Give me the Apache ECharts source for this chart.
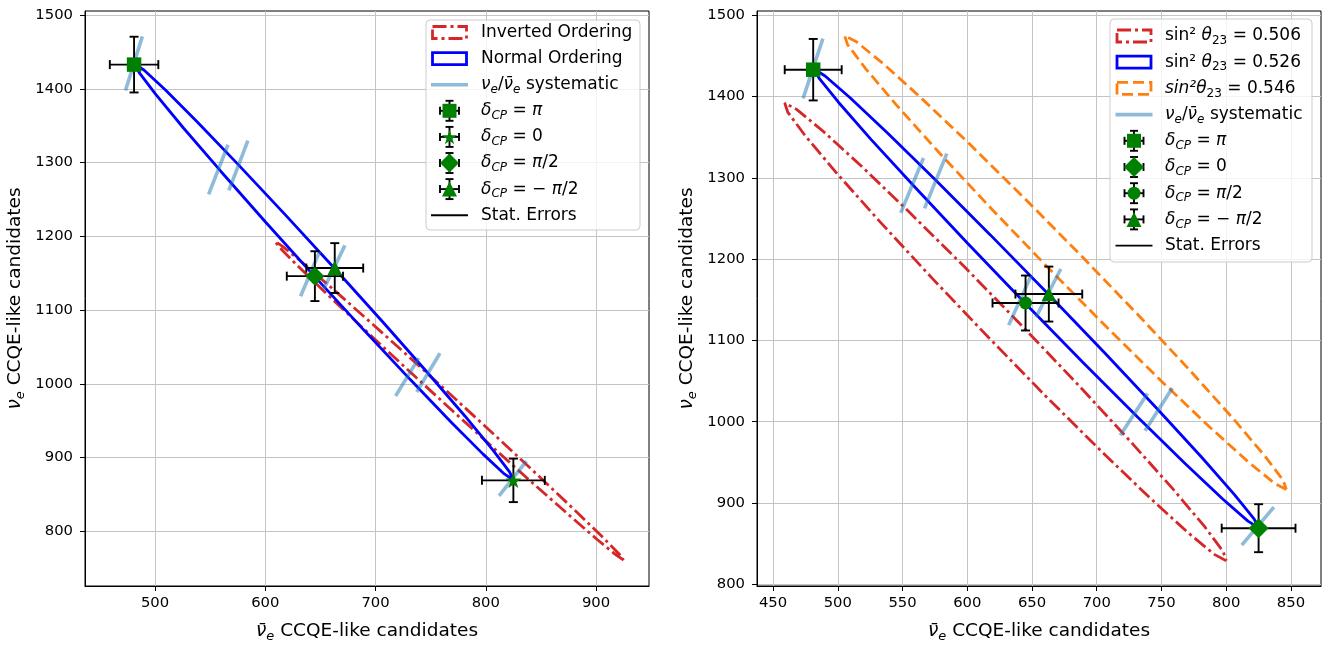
<!DOCTYPE html>
<html><head><meta charset="utf-8">
<script src="https://cdn.jsdelivr.net/npm/echarts@6/dist/echarts.min.js"></script>
<style>html,body{margin:0;padding:0;background:#fff}#c{width:1322px;height:648px}</style>
</head><body><div id="c"></div>
<script>
const FONT = 'DejaVu Sans';
const GREEN = '#008000';
const SYST = 'rgba(31,119,180,0.5)';

// ---------------- data ----------------
// markers: δCP = π, 0, π/2, −π/2
const nuebarPoints = [481, 825, 645, 663];
const nuePoints    = [1433, 869, 1146, 1157];
const nuebarStatErr = [22, 28.5, 25.5, 25.8];
const nueStatErr    = [37.8, 29.5, 33.8, 33.8];

// systematic segments (start / end)
const systX1 = [473.2, 548.6, 567.0, 632.0, 653.1, 718.2, 737.3, 812.0];
const systY1 = [1397.8, 1256.9, 1262.4, 1118.8, 1128.7, 983.4, 988.9, 848.1];
const systX2 = [488.5, 566.2, 584.2, 649.3, 672.2, 739.2, 758.4, 836.8];
const systY2 = [1471.3, 1324.3, 1329.8, 1179.6, 1187.8, 1034.8, 1041.4, 895.0];

// Normal ordering / sin²θ23 = 0.526 contour
const noX = [825, 816.8, 797.5, 768.4, 731.5, 689.2, 644.5, 600.4, 560, 525.8, 500.5, 485.5, 482, 490.2, 509.5, 538.6, 575.5, 617.8, 662.5, 706.6, 747, 781.2, 806.5, 821.5];
const noY = [869.5, 877.7, 904.6, 948.2, 1005.7, 1073.2, 1146, 1219.2, 1287.7, 1347, 1393, 1422.5, 1433.5, 1425.3, 1398.5, 1354.8, 1297.3, 1229.8, 1157, 1083.8, 1015.3, 956, 910, 880.5];
// Inverted ordering contour
const ioX = [925, 918.3, 901.3, 875.2, 841.7, 803.1, 762, 721.3, 683.7, 651.8, 627.7, 613.1, 609, 615.7, 632.7, 658.8, 692.3, 730.9, 772, 812.7, 850.3, 882.2, 906.3, 920.9];
const ioY = [761, 767.6, 788.4, 822.2, 866.4, 918.2, 974, 1030, 1082.4, 1127.6, 1162.6, 1184.8, 1193, 1186.4, 1165.6, 1131.8, 1087.6, 1035.8, 980, 924, 871.6, 826.4, 791.4, 769.2];
// sin²θ23 = 0.506 contour
const s506X = [800, 790.8, 770.7, 740.9, 703.5, 661, 616.5, 572.8, 533, 499.7, 475.3, 461.4, 459, 468.2, 488.3, 518.1, 555.5, 598, 642.5, 686.2, 726, 759.3, 783.7, 797.6];
const s506Y = [829, 836.8, 863.2, 906.5, 963.7, 1030.8, 1103.5, 1176.6, 1245.2, 1304.7, 1350.8, 1380.6, 1392, 1384.2, 1357.8, 1314.6, 1257.3, 1190.2, 1117.5, 1044.4, 975.8, 916.4, 870.2, 840.4];
// sin²θ23 = 0.546 contour
const s546X = [846.4, 837.2, 817, 787.2, 749.8, 707.4, 662.8, 619, 579.2, 546, 521.6, 507.6, 505.2, 514.4, 534.6, 564.4, 601.8, 644.2, 688.8, 732.6, 772.4, 805.6, 830, 844];
const s546Y = [916.6, 924.3, 950.5, 993.5, 1050.1, 1116.7, 1188.8, 1261.3, 1329.3, 1388.3, 1434.1, 1463.7, 1475, 1467.3, 1441.1, 1398.2, 1341.5, 1274.9, 1202.8, 1130.3, 1062.3, 1003.4, 957.5, 927.9];

const leftXTicks  = [500, 600, 700, 800, 900];
const rightXTicks = [450, 500, 550, 600, 650, 700, 750, 800, 850];
const yTicks      = [800, 900, 1000, 1100, 1200, 1300, 1400, 1500];

// ---------------- helpers ----------------
function closed(xs, ys) {
  const d = xs.map((x, i) => [x, ys[i]]);
  d.push([xs[0], ys[0]]);
  return d;
}
const STAR = 'path://M0,-1L0.2245,-0.309L0.951,-0.309L0.363,0.118L0.588,0.809L0,0.382L-0.588,0.809L-0.363,0.118L-0.951,-0.309L-0.2245,-0.309Z';
const DIAM = 'path://M0,-1L1,0L0,1L-1,0Z';
const plain = v => String(v);

const nameRich = {
  i: { fontStyle: 'italic', fontSize: 18.5, fontFamily: FONT },
  s: { fontStyle: 'italic', fontSize: 13, fontFamily: FONT, lineHeight: 13, verticalAlign: 'bottom' }
};

function xAx(gi, min, max, ticks) {
  return {
    type: 'value', gridIndex: gi, min: min, max: max,
    axisLine: { show: true, onZero: false, lineStyle: { color: '#000', width: 1 } },
    axisTick: { show: true, inside: false, length: 5, customValues: ticks, lineStyle: { color: '#000', width: 1 } },
    axisLabel: { customValues: ticks, formatter: plain, color: '#000', fontSize: 14.8, fontFamily: FONT, margin: 10 },
    splitLine: { show: true, lineStyle: { color: '#c4c4c4', width: 1 } },
    name: '{i|ν\u0304}{s|e} CCQE-like candidates', nameLocation: 'middle', nameGap: 33,
    nameTextStyle: { color: '#000', fontSize: 18.5, fontFamily: FONT, lineHeight: 24, rich: nameRich }
  };
}
function yAx(gi, min, max, ticks) {
  return {
    type: 'value', gridIndex: gi, min: min, max: max,
    axisLine: { show: true, onZero: false, lineStyle: { color: '#000', width: 1 } },
    axisTick: { show: true, inside: false, length: 5, customValues: ticks, lineStyle: { color: '#000', width: 1 } },
    axisLabel: { customValues: ticks, formatter: plain, color: '#000', fontSize: 14.8, fontFamily: FONT, margin: 12 },
    splitLine: { show: true, lineStyle: { color: '#c4c4c4', width: 1 } },
    name: '{i|ν}{s|e} CCQE-like candidates', nameLocation: 'middle', nameGap: 58,
    nameTextStyle: { color: '#000', fontSize: 18.5, fontFamily: FONT, lineHeight: 24, rich: nameRich }
  };
}

function contour(gi, xs, ys, color, type, z) {
  return {
    type: 'line', xAxisIndex: gi, yAxisIndex: gi, data: closed(xs, ys),
    showSymbol: false, symbol: 'none', smooth: false, z: z || 3, silent: true,
    lineStyle: { color: color, width: 2.8, type: type }
  };
}
function systSeries(gi) {
  return {
    type: 'custom', xAxisIndex: gi, yAxisIndex: gi, z: 4, silent: true, clip: false,
    data: systX1.map((x, i) => [x, systY1[i], systX2[i], systY2[i]]),
    renderItem: function (params, api) {
      const p1 = api.coord([api.value(0), api.value(1)]);
      const p2 = api.coord([api.value(2), api.value(3)]);
      return { type: 'line', shape: { x1: p1[0], y1: p1[1], x2: p2[0], y2: p2[1] },
        style: { stroke: SYST, lineWidth: 3.6, lineCap: 'butt' } };
    }
  };
}
function errSeries(gi) {
  return {
    type: 'custom', xAxisIndex: gi, yAxisIndex: gi, z: 5, silent: true, clip: false,
    data: nuebarPoints.map((x, i) => [x, nuePoints[i], nuebarStatErr[i], nueStatErr[i]]),
    renderItem: function (params, api) {
      const x = api.value(0), y = api.value(1), ex = api.value(2), ey = api.value(3);
      const l = api.coord([x - ex, y]), r = api.coord([x + ex, y]);
      const t = api.coord([x, y + ey]), b = api.coord([x, y - ey]);
      const st = { stroke: '#000', lineWidth: 1.9 };
      const c = 4.5;
      return { type: 'group', children: [
        { type: 'line', shape: { x1: l[0], y1: l[1], x2: r[0], y2: r[1] }, style: st },
        { type: 'line', shape: { x1: t[0], y1: t[1], x2: b[0], y2: b[1] }, style: st },
        { type: 'line', shape: { x1: l[0], y1: l[1] - c, x2: l[0], y2: l[1] + c }, style: st },
        { type: 'line', shape: { x1: r[0], y1: r[1] - c, x2: r[0], y2: r[1] + c }, style: st },
        { type: 'line', shape: { x1: t[0] - c, y1: t[1], x2: t[0] + c, y2: t[1] }, style: st },
        { type: 'line', shape: { x1: b[0] - c, y1: b[1], x2: b[0] + c, y2: b[1] }, style: st }
      ] };
    }
  };
}
function markerSeries(gi, symbols, sizes) {
  return {
    type: 'scatter', xAxisIndex: gi, yAxisIndex: gi, z: 6, silent: true,
    data: nuebarPoints.map((x, i) => ({ value: [x, nuePoints[i]], symbol: symbols[i], symbolSize: sizes[i], symbolKeepAspect: true })),
    itemStyle: { color: GREEN, opacity: 1 }
  };
}

// ---------------- legends ----------------
const legRich = {
  i: { fontStyle: 'italic', fontSize: 17, fontFamily: FONT, lineHeight: 22 },
  s: { fontStyle: 'italic', fontSize: 12, fontFamily: FONT, lineHeight: 12, verticalAlign: 'bottom' },
  n: { fontSize: 12, fontFamily: FONT, lineHeight: 12, verticalAlign: 'bottom' }
};
function polyPts(kind, cx, cy, r) {
  if (kind === 'star') {
    const u = [[0,-1],[0.2245,-0.309],[0.951,-0.309],[0.363,0.118],[0.588,0.809],[0,0.382],[-0.588,0.809],[-0.363,0.118],[-0.951,-0.309],[-0.2245,-0.309]];
    return u.map(p => [cx + p[0] * r, cy + p[1] * r + 0.1 * r]);
  }
  if (kind === 'diamond') return [[cx, cy - r], [cx + r, cy], [cx, cy + r], [cx - r, cy]];
  if (kind === 'triangle') return [[cx, cy - r], [cx + r, cy + r], [cx - r, cy + r]];
  return [];
}
function legend(cfg) {
  const els = [];
  els.push({ type: 'rect', z: 100, shape: { x: cfg.box[0], y: cfg.box[1], width: cfg.box[2] - cfg.box[0], height: cfg.box[3] - cfg.box[1], r: 4 },
    style: { fill: 'rgba(255,255,255,0.8)', stroke: '#cccccc', lineWidth: 1 } });
  cfg.rows.forEach((row, k) => {
    const y = cfg.y0 + k * cfg.step, cx = cfg.cx, w = 37;
    if (row.icon === 'rect') {
      els.push({ type: 'rect', z: 101, shape: { x: cx - w / 2 + 1.5, y: y - 6, width: w - 3, height: 12 },
        style: { fill: 'none', stroke: row.color, lineWidth: 2.8, lineDash: row.dash || null } });
    } else if (row.icon === 'line') {
      els.push({ type: 'line', z: 101, shape: { x1: cx - w / 2, y1: y, x2: cx + w / 2, y2: y },
        style: { stroke: row.color, lineWidth: row.lw } });
    } else {
      const st = { stroke: '#000', lineWidth: 1.9 };
      const ex = 9.5, ey = 10, c = 4;
      [[cx - ex, y, cx + ex, y], [cx, y - ey, cx, y + ey], [cx - ex, y - c, cx - ex, y + c], [cx + ex, y - c, cx + ex, y + c],
       [cx - c, y - ey, cx + c, y - ey], [cx - c, y + ey, cx + c, y + ey]].forEach(s => {
        els.push({ type: 'line', z: 101, shape: { x1: s[0], y1: s[1], x2: s[2], y2: s[3] }, style: st });
      });
      if (row.icon === 'square') els.push({ type: 'rect', z: 102, shape: { x: cx - 7, y: y - 7, width: 14, height: 14 }, style: { fill: GREEN } });
      else if (row.icon === 'circle') els.push({ type: 'circle', z: 102, shape: { cx: cx, cy: y, r: 6.5 }, style: { fill: GREEN } });
      else els.push({ type: 'polygon', z: 102, shape: { points: polyPts(row.icon, cx, y, row.r) }, style: { fill: GREEN } });
    }
    els.push({ type: 'text', z: 102, x: cfg.tx, y: y,
      style: { text: row.text, rich: legRich, fontSize: 17, fontFamily: FONT, fill: '#000', align: 'left', verticalAlign: 'middle', lineHeight: 22 } });
  });
  return els;
}
const dashDot = [14, 4, 3, 4];
const dashed = [11, 5];
const systText = '{i|ν}{s|e}/{i|ν\u0304}{s|e} systematic';
const leftLegend = legend({
  box: [426, 20, 640, 230], cx: 449.5, tx: 481, y0: 32.5, step: 26.1,
  rows: [
    { icon: 'rect', color: '#d62728', dash: dashDot, text: 'Inverted Ordering' },
    { icon: 'rect', color: '#0000ff', text: 'Normal Ordering' },
    { icon: 'line', color: SYST, lw: 3.6, text: systText },
    { icon: 'square', text: '{i|δ}{s|CP} = {i|π}' },
    { icon: 'star', r: 8, text: '{i|δ}{s|CP} = 0' },
    { icon: 'diamond', r: 9.5, text: '{i|δ}{s|CP} = {i|π}/2' },
    { icon: 'triangle', r: 7.5, text: '{i|δ}{s|CP} = − {i|π}/2' },
    { icon: 'line', color: '#000', lw: 1.9, text: 'Stat. Errors' }
  ]
});
const rightLegend = legend({
  box: [1110, 19, 1312, 262], cx: 1134, tx: 1165, y0: 36, step: 26.2,
  rows: [
    { icon: 'rect', color: '#d62728', dash: dashDot, text: 'sin² {i|θ}{n|23} = 0.506' },
    { icon: 'rect', color: '#0000ff', text: 'sin² {i|θ}{n|23} = 0.526' },
    { icon: 'rect', color: '#ff7f0e', dash: dashed, text: '{i|sin²θ}{n|23} = 0.546' },
    { icon: 'line', color: SYST, lw: 3.6, text: systText },
    { icon: 'square', text: '{i|δ}{s|CP} = {i|π}' },
    { icon: 'diamond', r: 10, text: '{i|δ}{s|CP} = 0' },
    { icon: 'circle', text: '{i|δ}{s|CP} = {i|π}/2' },
    { icon: 'triangle', r: 7.5, text: '{i|δ}{s|CP} = − {i|π}/2' },
    { icon: 'line', color: '#000', lw: 1.9, text: 'Stat. Errors' }
  ]
});

// ---------------- chart ----------------
const chart = echarts.init(document.getElementById('c'), null, { renderer: 'canvas' });
chart.setOption({
  animation: false,
  backgroundColor: '#fff',
  textStyle: { fontFamily: FONT },
  grid: [
    { left: 85, top: 11, width: 564, height: 585, show: true, borderColor: '#000', borderWidth: 1, containLabel: false },
    { left: 757, top: 11, width: 564, height: 585, show: true, borderColor: '#000', borderWidth: 1, containLabel: false }
  ],
  xAxis: [xAx(0, 436.5, 948, leftXTicks), xAx(1, 437.6, 873.2, rightXTicks)],
  yAxis: [yAx(0, 725.7, 1505.7, yTicks), yAx(1, 797.9, 1505.2, yTicks)],
  series: [
    contour(0, ioX, ioY, '#d62728', dashDot),
    contour(0, noX, noY, '#0000ff', 'solid'),
    systSeries(0), errSeries(0),
    markerSeries(0, ['rect', STAR, DIAM, 'triangle'], [14.5, 16, 19, 15]),
    contour(1, s506X, s506Y, '#d62728', dashDot),
    contour(1, noX, noY, '#0000ff', 'solid'),
    contour(1, s546X, s546Y, '#ff7f0e', dashed),
    systSeries(1), errSeries(1),
    markerSeries(1, ['rect', DIAM, 'circle', 'triangle'], [14.5, 20, 13, 14.5])
  ],
  graphic: { elements: leftLegend.concat(rightLegend) }
});
</script></body></html>
